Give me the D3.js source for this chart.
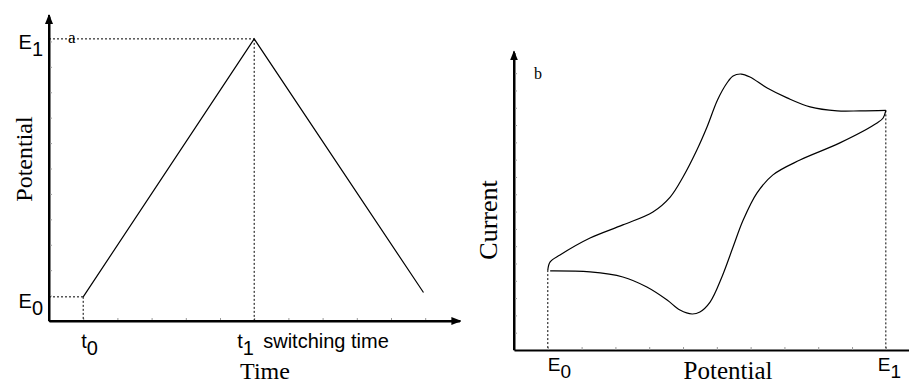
<!DOCTYPE html>
<html>
<head>
<meta charset="utf-8">
<script src="https://cdn.jsdelivr.net/npm/d3@7"></script>
<style>
  body { margin: 0; background: #fff; }
  .sans { font-family: "Liberation Sans", Arial, sans-serif; }
  .serif { font-family: "Liberation Serif", "Times New Roman", serif; }
</style>
</head>
<body>
<svg id="chart" width="909" height="385"></svg>
<script>
// ---- Panel a: triangular potential sweep ----
const sweepTime = [1, 6, 10.95];
const sweepPotential = [0.95, 11.1, 1.12];
const sweepStartTime = 1;      // t0
const switchTime = 6;          // t1
const startPotential = 0.95;   // E0
const switchPotential = 11.1;  // E1
const timeTicks = [1, 2, 3, 4, 5, 6, 7, 8, 9, 10, 11];
const potentialTicksA = [1, 2, 3, 4, 5, 6, 7, 8, 9, 10, 11];

// ---- Panel b: cyclic voltammogram ----
const forwardPotential = [1.0, 1.07, 1.36, 2.25, 3.22, 4.11, 4.62, 5.0, 5.41, 5.71, 6.02, 6.30, 6.48, 6.72, 6.98, 7.49, 8.08, 8.76, 9.56, 10.24, 11.0];
const forwardCurrent   = [4.62, 5.09, 5.49, 6.47, 7.23, 7.98, 8.84, 10.0, 11.56, 12.89, 14.45, 15.43, 15.84, 15.95, 15.78, 15.14, 14.57, 14.05, 13.82, 13.82, 13.85];
const reversePotential = [11.0, 10.92, 10.74, 9.64, 8.46, 7.66, 7.19, 6.78, 6.48, 6.15, 5.80, 5.50, 5.27, 4.91, 4.53, 3.93, 3.22, 2.25, 1.07];
const reverseCurrent   = [13.85, 13.41, 13.12, 11.97, 10.98, 10.12, 9.08, 7.51, 5.95, 4.22, 2.77, 2.20, 2.08, 2.31, 2.89, 3.64, 4.22, 4.51, 4.57];
const cvStartPotential = 1;    // E0
const cvSwitchPotential = 11;  // E1
const cvPotentialTicks = [1, 2, 3, 4, 5, 6, 7, 8, 9, 10, 11];
const cvCurrentTicks = [1, 2, 3, 4, 5, 6, 7, 8, 9, 10, 11, 12, 13, 14, 15, 16];

const svg = d3.select("#chart");

// arrow marker for axis ends
svg.append("defs").append("marker")
  .attr("id", "arrow")
  .attr("viewBox", "0 0 10 10")
  .attr("refX", 9).attr("refY", 5)
  .attr("markerWidth", 10).attr("markerHeight", 10)
  .attr("markerUnits", "userSpaceOnUse")
  .attr("orient", "auto")
  .append("path").attr("d", "M0,1 L10,5 L0,9 Z").attr("fill", "#000");

function styleAxis(g) {
  g.select(".domain").attr("stroke", "#000").attr("stroke-width", 2);
  g.selectAll(".tick line").attr("stroke", "#999").attr("stroke-width", 1);
  g.selectAll(".tick text").remove();
}

function dotted(x1, y1, x2, y2) {
  svg.append("line")
    .attr("x1", x1).attr("y1", y1).attr("x2", x2).attr("y2", y2)
    .attr("stroke", "#000").attr("stroke-width", 1)
    .attr("stroke-dasharray", "2,2");
}

function subLabel(x, y, main, sub, size, anchor) {
  const t = svg.append("text").attr("class", "sans")
    .attr("x", x).attr("y", y)
    .attr("font-size", size).attr("text-anchor", anchor || "start");
  t.append("tspan").text(main);
  t.append("tspan").attr("dy", 7).text(sub);
  return t;
}

// ================= Panel a =================
const xa = d3.scaleLinear().domain([0, 12]).range([49, 459.4]);
const ya = d3.scaleLinear().domain([0, 12]).range([321, 16]);

svg.append("g").attr("transform", `translate(0,${ya(0)})`)
  .call(d3.axisBottom(xa).tickValues(timeTicks).tickSizeInner(-3).tickSizeOuter(0))
  .call(styleAxis);
svg.append("g").attr("transform", `translate(${xa(0)},0)`)
  .call(d3.axisLeft(ya).tickValues(potentialTicksA).tickSizeInner(-3).tickSizeOuter(0))
  .call(styleAxis);

// axis arrows
svg.append("line").attr("x1", xa(0)).attr("y1", ya(0)).attr("x2", xa(12) + 1).attr("y2", ya(0))
  .attr("stroke", "#000").attr("stroke-width", 2).attr("marker-end", "url(#arrow)");
svg.append("line").attr("x1", xa(0)).attr("y1", ya(0)).attr("x2", xa(0)).attr("y2", ya(12) - 1)
  .attr("stroke", "#000").attr("stroke-width", 2).attr("marker-end", "url(#arrow)");

// guide lines at E0/t0 and E1/t1
dotted(xa(0), ya(startPotential), xa(sweepStartTime), ya(startPotential));
dotted(xa(sweepStartTime), ya(startPotential), xa(sweepStartTime), ya(0));
dotted(xa(0), ya(switchPotential), xa(switchTime), ya(switchPotential));
dotted(xa(switchTime), ya(switchPotential), xa(switchTime), ya(0));

// sweep
const sweepLine = d3.line().x(d => xa(d[0])).y(d => ya(d[1]));
svg.append("path")
  .datum(d3.zip(sweepTime, sweepPotential))
  .attr("d", sweepLine)
  .attr("fill", "none").attr("stroke", "#000").attr("stroke-width", 1.2);

// labels
subLabel(43, ya(switchPotential) + 10, "E", "1", 20, "end");
subLabel(43, ya(startPotential) + 11, "E", "0", 20, "end");
subLabel(xa(sweepStartTime) - 2, 348, "t", "0", 20);
subLabel(xa(switchTime) - 17, 348, "t", "1", 20);
svg.append("text").attr("class", "sans").attr("x", xa(switchTime) + 9).attr("y", 348)
  .attr("font-size", 20).text("switching time");
svg.append("text").attr("class", "serif").attr("x", 265).attr("y", 379)
  .attr("font-size", 24).attr("text-anchor", "middle").text("Time");
svg.append("text").attr("class", "serif")
  .attr("transform", "translate(32,159) rotate(-90)")
  .attr("font-size", 24).attr("text-anchor", "middle").text("Potential");
svg.append("text").attr("class", "serif").attr("x", 68).attr("y", 43)
  .attr("font-size", 17).text("a");

// ================= Panel b =================
const xb = d3.scaleLinear().domain([0, 11.7]).range([514, 909.5]);
const yb = d3.scaleLinear().domain([0, 17.2]).range([350, 52.4]);

svg.append("g").attr("transform", `translate(0,${yb(0)})`)
  .call(d3.axisBottom(xb).tickValues(cvPotentialTicks).tickSizeInner(-3).tickSizeOuter(0))
  .call(styleAxis);
svg.append("g").attr("transform", `translate(${xb(0)},0)`)
  .call(d3.axisLeft(yb).tickValues(cvCurrentTicks).tickSizeInner(-3).tickSizeOuter(0))
  .call(styleAxis);
svg.append("line").attr("x1", xb(0)).attr("y1", yb(0)).attr("x2", xb(0)).attr("y2", yb(17.2) - 1)
  .attr("stroke", "#000").attr("stroke-width", 2).attr("marker-end", "url(#arrow)");

dotted(xb(cvStartPotential), yb(forwardCurrent[0]), xb(cvStartPotential), yb(0));
dotted(xb(cvSwitchPotential), yb(reverseCurrent[0]), xb(cvSwitchPotential), yb(0));

const cvLine = d3.line().x(d => xb(d[0])).y(d => yb(d[1])).curve(d3.curveCatmullRom.alpha(0.5));
svg.append("path")
  .datum(d3.zip(forwardPotential, forwardCurrent))
  .attr("d", cvLine)
  .attr("fill", "none").attr("stroke", "#000").attr("stroke-width", 1.2);
svg.append("path")
  .datum(d3.zip(reversePotential, reverseCurrent))
  .attr("d", cvLine)
  .attr("fill", "none").attr("stroke", "#000").attr("stroke-width", 1.2);

subLabel(xb(cvStartPotential), 371, "E", "0", 19);
subLabel(xb(cvSwitchPotential) - 8, 371, "E", "1", 19);
svg.append("text").attr("class", "serif").attr("x", 728).attr("y", 379)
  .attr("font-size", 25).attr("text-anchor", "middle").text("Potential");
svg.append("text").attr("class", "serif")
  .attr("transform", "translate(497,220) rotate(-90)")
  .attr("font-size", 26).attr("text-anchor", "middle").text("Current");
svg.append("text").attr("class", "serif").attr("x", 534).attr("y", 79)
  .attr("font-size", 16).text("b");
</script>
</body>
</html>
